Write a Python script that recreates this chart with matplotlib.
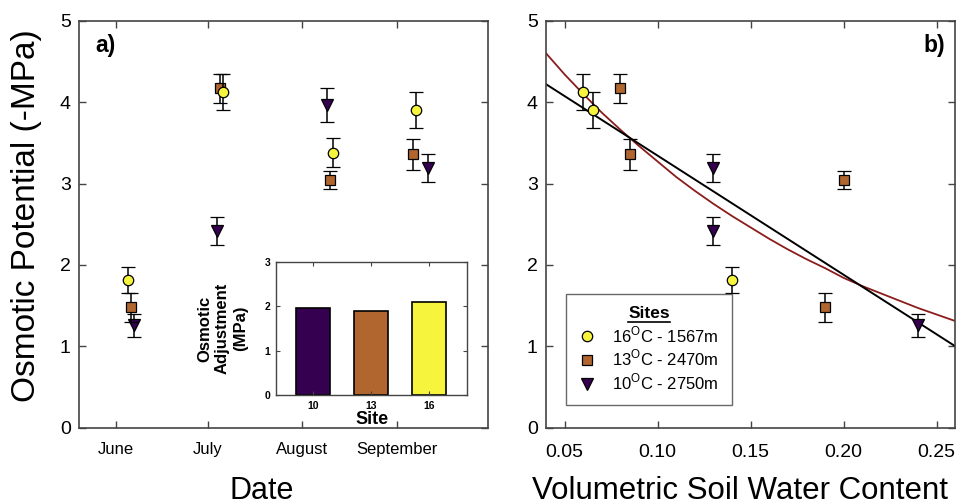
import numpy as np
import matplotlib
matplotlib.use("Agg")
import matplotlib.pyplot as plt
from matplotlib.lines import Line2D

plt.rcParams['font.family'] = ['Liberation Sans', 'DejaVu Sans']
plt.rcParams['mathtext.fontset'] = 'custom'
plt.rcParams['mathtext.rm'] = 'Liberation Sans'

# ---------------- data ----------------
months = ["June", "July", "August", "September"]
month_starts = ["2000-06-01", "2000-07-01", "2000-08-01", "2000-09-01"]

sites = ["16$^{\\mathrm{O}}$C - 1567m", "13$^{\\mathrm{O}}$C - 2470m", "10$^{\\mathrm{O}}$C - 2750m"]

dates_16 = ["2000-06-05", "2000-07-06", "2000-08-11", "2000-09-07"]
dates_13 = ["2000-06-06", "2000-07-05", "2000-08-10", "2000-09-06"]
dates_10 = ["2000-06-07", "2000-07-04", "2000-08-09", "2000-09-11"]

op_16 = [1.81, 4.12, 3.38, 3.90]
op_13 = [1.48, 4.17, 3.04, 3.36]
op_10 = [1.26, 2.42, 3.96, 3.19]

err_16 = [0.16, 0.22, 0.18, 0.22]
err_13 = [0.18, 0.18, 0.11, 0.19]
err_10 = [0.14, 0.17, 0.21, 0.17]

vwc_16 = [0.14, 0.06, np.nan, 0.065]
vwc_13 = [0.19, 0.08, 0.20, 0.085]
vwc_10 = [0.24, 0.13, np.nan, 0.13]

# fitted curves
fit_x = [0.04, 0.05, 0.06, 0.07, 0.08, 0.09, 0.10, 0.11, 0.12, 0.13, 0.14, 0.15,
         0.16, 0.17, 0.18, 0.19, 0.20, 0.21, 0.22, 0.23, 0.24, 0.25, 0.26]
fit_red = [4.60, 4.34, 4.10, 3.87, 3.66, 3.46, 3.27, 3.08, 2.91, 2.75, 2.60, 2.46,
           2.32, 2.19, 2.07, 1.96, 1.84, 1.74, 1.65, 1.56, 1.47, 1.39, 1.31]
lin_x = [0.04, 0.26]
lin_y = [4.22, 1.00]

inset_sites = ["10", "13", "16"]
inset_oa = [1.96, 1.90, 2.10]

# ---------------- style ----------------
c16 = "#f6f43c"
c13 = "#b0662e"
c10 = "#35004f"
spine_c = "#444444"

fig = plt.figure(figsize=(9.69, 5.04), dpi=100)
axA = fig.add_axes([0.0815, 0.1514, 0.4218, 0.8075])
axB = fig.add_axes([0.5635, 0.1514, 0.4224, 0.8075])

def style(ax):
    for s in ax.spines.values():
        s.set_color(spine_c)
        s.set_linewidth(1.2)
    ax.tick_params(direction='in', length=5, width=1, color=spine_c,
                   top=True, right=True, labelsize=14, pad=6)

def D(lst):
    return np.array(lst, dtype='datetime64[D]')

mk = dict(mec='black', mew=0.9, ecolor='black', elinewidth=1.1, capsize=5, capthick=1.1, ls='none')

# ---------- panel a ----------
axA.errorbar(D(dates_10), op_10, yerr=err_10, marker='v', ms=8, mfc=c10, zorder=3, **mk)
axA.errorbar(D(dates_13), op_13, yerr=err_13, marker='s', ms=6.5, mfc=c13, zorder=4, **mk)
axA.errorbar(D(dates_16), op_16, yerr=err_16, marker='o', ms=7.5, mfc=c16, zorder=5, **mk)
axA.set_xlim(np.datetime64("2000-05-20"), np.datetime64("2000-09-30T12"))
axA.set_ylim(0, 5)
axA.set_xticks(D(month_starts))
axA.set_xticklabels(months)
axA.set_yticks([0, 1, 2, 3, 4, 5])
style(axA)
axA.tick_params(axis='x', labelsize=12, pad=10)
axA.set_ylabel("Osmotic Potential (-MPa)", fontsize=24)
axA.yaxis.label.set_va('center')
axA.yaxis.set_label_coords(-0.128, 0.52)
axA.set_xlabel("Date", fontsize=22)
axA.xaxis.label.set_va('center')
axA.xaxis.set_label_coords(0.447, -0.155)
axA.text(0.04, 0.94, "a)", transform=axA.transAxes, fontsize=16.5, fontweight='bold',
         ha='left', va='center')

# inset
axI = fig.add_axes([0.2848, 0.2163, 0.1974, 0.2639])
xpos = np.arange(len(inset_sites))
axI.bar(xpos, inset_oa, width=0.6, color=[c10, c13, c16], edgecolor='black', linewidth=1.2)
axI.set_xlim(-0.64, 2.66)
axI.set_ylim(0, 3)
axI.set_xticks(xpos)
axI.set_xticklabels(inset_sites)
axI.set_yticks([0, 1, 2, 3])
for s in axI.spines.values():
    s.set_color(spine_c)
    s.set_linewidth(1.0)
axI.tick_params(direction='in', length=3, width=0.8, color=spine_c, top=True, right=True,
                labelsize=7.5, pad=4)
for t in axI.get_xticklabels() + axI.get_yticklabels():
    t.set_fontweight('bold')
axI.set_xlabel("Site", fontsize=13, fontweight='bold', labelpad=0)
axI.set_ylabel("Osmotic\nAdjustment\n(MPa)", fontsize=12, fontweight='bold', labelpad=12,
               linespacing=1.25)

# ---------- panel b ----------
axB.plot(fit_x, fit_red, color="#8b1c1c", lw=1.3, zorder=2)
axB.plot(lin_x, lin_y, color="black", lw=1.4, zorder=2)
axB.errorbar(vwc_10, op_10, yerr=err_10, marker='v', ms=8, mfc=c10, zorder=3, label=sites[2], **mk)
axB.errorbar(vwc_13, op_13, yerr=err_13, marker='s', ms=6.5, mfc=c13, zorder=4, label=sites[1], **mk)
axB.errorbar(vwc_16, op_16, yerr=err_16, marker='o', ms=7.5, mfc=c16, zorder=5, label=sites[0], **mk)
axB.set_xlim(0.04, 0.26)
axB.set_ylim(0, 5)
axB.set_xticks([0.05, 0.10, 0.15, 0.20, 0.25])
axB.set_xticklabels(["0.05", "0.10", "0.15", "0.20", "0.25"])
axB.set_yticks([0, 1, 2, 3, 4, 5])
style(axB)
axB.tick_params(axis='x', pad=12)
axB.set_xlabel("Volumetric Soil Water Content", fontsize=22.5)
axB.xaxis.label.set_va('center')
axB.xaxis.set_label_coords(0.475, -0.155)
axB.text(0.975, 0.94, "b)", transform=axB.transAxes, fontsize=16.5, fontweight='bold',
         ha='right', va='center')

handles = [Line2D([], [], marker='o', ms=7.5, mfc=c16, mec='black', mew=0.9, ls='none'),
           Line2D([], [], marker='s', ms=6.5, mfc=c13, mec='black', mew=0.9, ls='none'),
           Line2D([], [], marker='v', ms=8, mfc=c10, mec='black', mew=0.9, ls='none')]
leg = axB.legend(handles, sites, title="Sites", loc='lower left',
                 bbox_to_anchor=(0.05, 0.055), fontsize=12, frameon=True, fancybox=False,
                 edgecolor=spine_c, borderpad=0.75, handletextpad=1.0, labelspacing=0.2,
                 borderaxespad=0, handlelength=1.0)
leg.get_title().set_fontweight('bold')
leg.get_title().set_fontsize(12.5)
leg.get_frame().set_linewidth(1.0)

fig.canvas.draw()
bb = leg.get_title().get_window_extent()
fig.add_artist(Line2D([bb.x0, bb.x1], [bb.y0 - 1, bb.y0 - 1], color='black', lw=1.2,
                      transform=None))

fig.savefig("out.png", dpi=100)
